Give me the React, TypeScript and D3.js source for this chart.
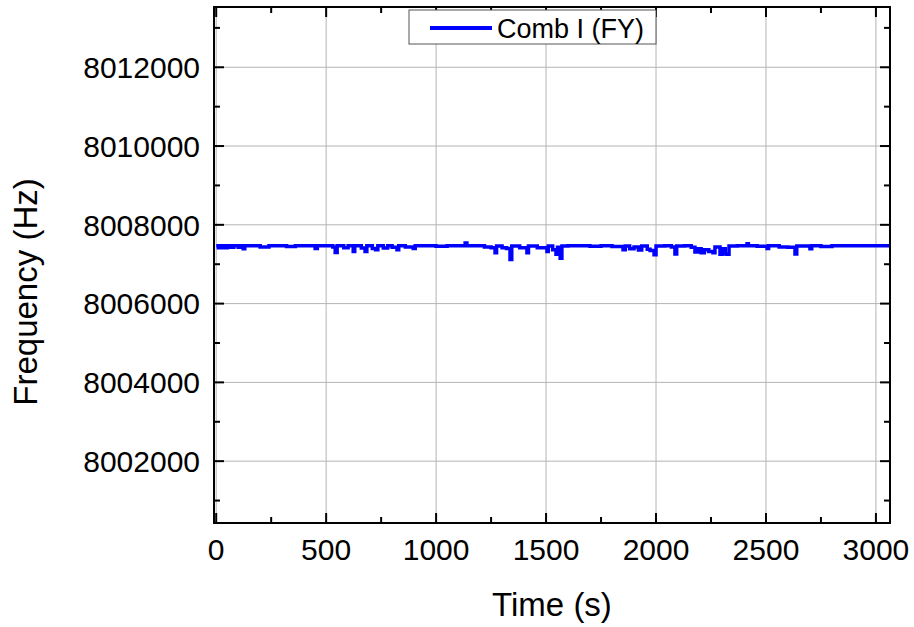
import React from "react";
import * as d3 from "d3";

const timeValues: number[] = [
  0, 10, 20, 35, 50, 65, 80, 100, 115, 123, 130, 170, 200, 240, 280, 320, 360, 400, 450, 460,
  500, 530, 541, 550, 580, 600, 623, 630, 660, 677, 685, 710, 725, 735, 760, 780, 800, 822, 830, 860,
  896, 905, 950, 1000, 1050, 1100, 1132, 1140, 1180, 1220, 1250, 1268, 1275, 1300, 1320, 1336, 1344, 1380, 1413, 1420,
  1460, 1504, 1510, 1530, 1545, 1552, 1564, 1572, 1600, 1650, 1700, 1750, 1800, 1850, 1860, 1880, 1900, 1920, 1935, 1960,
  1973, 1991, 2000, 2040, 2070, 2086, 2094, 2130, 2160, 2177, 2190, 2205, 2220, 2240, 2259, 2268, 2291, 2300, 2315, 2323,
  2332, 2370, 2414, 2420, 2460, 2505, 2512, 2560, 2600, 2632, 2640, 2700, 2708, 2750, 2800, 2850, 2900, 2950, 3000, 3064,
];

const freqValues: number[] = [
  8007470, 8007420, 8007470, 8007420, 8007470, 8007430, 8007470, 8007430, 8007470, 8007390, 8007470, 8007470, 8007440, 8007470, 8007470, 8007450, 8007470, 8007470, 8007400, 8007470,
  8007470, 8007440, 8007300, 8007470, 8007420, 8007470, 8007320, 8007470, 8007410, 8007320, 8007470, 8007400, 8007370, 8007470, 8007410, 8007470, 8007430, 8007370, 8007470, 8007440,
  8007400, 8007470, 8007470, 8007455, 8007470, 8007470, 8007540, 8007470, 8007470, 8007440, 8007420, 8007290, 8007460, 8007420, 8007400, 8007120, 8007460, 8007420, 8007290, 8007460,
  8007420, 8007320, 8007460, 8007370, 8007250, 8007430, 8007150, 8007460, 8007470, 8007470, 8007455, 8007470, 8007450, 8007370, 8007460, 8007390, 8007440, 8007360, 8007460, 8007380,
  8007350, 8007240, 8007460, 8007470, 8007440, 8007260, 8007460, 8007470, 8007430, 8007310, 8007390, 8007290, 8007370, 8007320, 8007290, 8007440, 8007250, 8007390, 8007260, 8007250,
  8007460, 8007470, 8007520, 8007470, 8007455, 8007400, 8007470, 8007440, 8007430, 8007260, 8007460, 8007390, 8007470, 8007450, 8007470, 8007470, 8007470, 8007470, 8007470, 8007470,
];

const xMajorTicks: number[] = [0, 500, 1000, 1500, 2000, 2500, 3000];
const xMinorTicks: number[] = [250, 750, 1250, 1750, 2250, 2750];
const yMajorTicks: number[] = [8002000, 8004000, 8006000, 8008000, 8010000, 8012000];
const yMinorTicks: number[] = [8001000, 8003000, 8005000, 8007000, 8009000, 8011000, 8013000];

const seriesName = "Comb I (FY)";
const xTitle = "Time (s)";
const yTitle = "Frequency (Hz)";

const W = 914;
const H = 627;
const L = 214;
const R = 890;
const T = 7;
const B = 523;
const FONT = "'Liberation Sans', Arial, Helvetica, sans-serif";

export default function App() {
  const x = d3.scaleLinear().domain([-10, 3064]).range([L, R]);
  const y = d3.scaleLinear().domain([8000430, 8013530]).range([B, T]);
  const pts: [number, number][] = timeValues.map((t, i) => [t, freqValues[i]]);
  const line = d3
    .line<[number, number]>()
    .x((d) => x(d[0]))
    .y((d) => y(d[1]))
    .curve(d3.curveStepAfter);

  const majorLen = 10;
  const minorLen = 6;

  return (
    <svg
      width={W}
      height={H}
      style={{ position: "absolute", left: 0, top: 0, background: "#fff" }}
      fontFamily={FONT}
    >
      <defs>
        <clipPath id="plotclip">
          <rect x={L} y={T} width={R - L} height={B - T} />
        </clipPath>
      </defs>
      <rect x={0} y={0} width={W} height={H} fill="#fff" />
      {xMajorTicks.map((t) => (
        <line key={"gx" + t} x1={x(t)} x2={x(t)} y1={T} y2={B} stroke="#b4b4b4" strokeWidth={1} />
      ))}
      {yMajorTicks.map((t) => (
        <line key={"gy" + t} x1={L} x2={R} y1={y(t)} y2={y(t)} stroke="#b4b4b4" strokeWidth={1} />
      ))}
      <path
        d={line(pts) || ""}
        fill="none"
        stroke="#0000ff"
        strokeWidth={3.5}
        strokeLinejoin="miter"
        clipPath="url(#plotclip)"
      />
      {xMajorTicks.map((t) => (
        <g key={"xt" + t}>
          <line x1={x(t)} x2={x(t)} y1={B} y2={B - majorLen} stroke="#000" strokeWidth={2} />
          <line x1={x(t)} x2={x(t)} y1={T} y2={T + majorLen} stroke="#000" strokeWidth={2} />
        </g>
      ))}
      {xMinorTicks.map((t) => (
        <g key={"xm" + t}>
          <line x1={x(t)} x2={x(t)} y1={B} y2={B - minorLen} stroke="#000" strokeWidth={2} />
          <line x1={x(t)} x2={x(t)} y1={T} y2={T + minorLen} stroke="#000" strokeWidth={2} />
        </g>
      ))}
      {yMajorTicks.map((t) => (
        <g key={"yt" + t}>
          <line x1={L} x2={L + majorLen} y1={y(t)} y2={y(t)} stroke="#000" strokeWidth={2} />
          <line x1={R} x2={R - majorLen} y1={y(t)} y2={y(t)} stroke="#000" strokeWidth={2} />
        </g>
      ))}
      {yMinorTicks.map((t) => (
        <g key={"ym" + t}>
          <line x1={L} x2={L + minorLen} y1={y(t)} y2={y(t)} stroke="#000" strokeWidth={2} />
          <line x1={R} x2={R - minorLen} y1={y(t)} y2={y(t)} stroke="#000" strokeWidth={2} />
        </g>
      ))}
      <rect x={L} y={T} width={R - L} height={B - T} fill="none" stroke="#000" strokeWidth={2} />
      {xMajorTicks.map((t) => (
        <text key={"xl" + t} x={x(t)} y={560} fontSize={30} textAnchor="middle" fill="#000">
          {String(t)}
        </text>
      ))}
      {yMajorTicks.map((t) => (
        <text key={"yl" + t} x={200} y={y(t)} dy="0.36em" fontSize={30} textAnchor="end" fill="#000">
          {String(t)}
        </text>
      ))}
      <text x={552} y={616} fontSize={33} textAnchor="middle" fill="#000">
        {xTitle}
      </text>
      <text transform={`translate(37, 292) rotate(-90)`} fontSize={33} textAnchor="middle" fill="#000">
        {yTitle}
      </text>
      <rect x={409} y={10} width={247} height={34} fill="#fff" stroke="#555" strokeWidth={1} />
      <line x1={430} x2={492} y1={28} y2={28} stroke="#0000ff" strokeWidth={4} />
      <text x={497} y={38} fontSize={27} fill="#000">
        {seriesName}
      </text>
    </svg>
  );
}
